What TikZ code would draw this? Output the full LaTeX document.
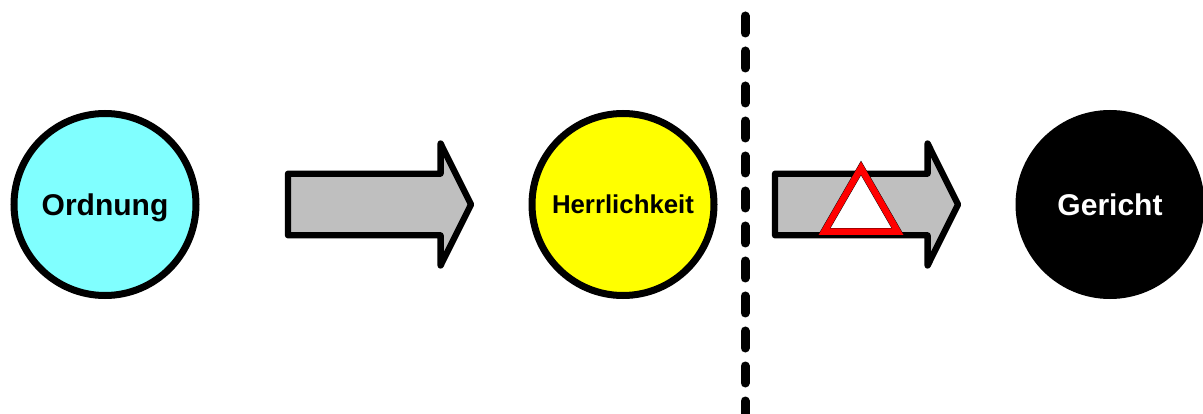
\documentclass[tikz,border=0pt]{standalone}
\usepackage{fontspec}
\setmainfont{Liberation Sans}
\usetikzlibrary{shapes.arrows,shapes.geometric}

\definecolor{clair}{RGB}{128,255,255}
\definecolor{jaune}{RGB}{255,255,0}

\tikzset{
    etat/.style={circle,draw=black,line width=7pt,minimum size=182pt,inner sep=0pt,font=\bfseries},
    fleche/.style={single arrow,draw=black,fill=black!25,line width=6.3pt,line cap=round,line join=round,
        minimum width=122pt,minimum height=183pt,single arrow head extend=30pt,
        single arrow tip angle=127,inner xsep=0pt,inner ysep=27.5pt,outer sep=0pt,anchor=west},
    alerte/.style={regular polygon,regular polygon sides=3,draw=black,line width=.4pt,double=red,
        double distance=6.5pt,fill=white,minimum size=85pt,inner sep=0pt}
}

\begin{document}
\begin{tikzpicture}[x=1pt,y=-1pt]
    \useasboundingbox (0,0) rectangle (1203,414);

    % Etats
    \node[etat,fill=clair,text depth=0pt] (ordnung) at (105,204.5) {\fontsize{30}{32}\selectfont Ordnung};
    \node[etat,fill=jaune] (herrlichkeit) at (623,204.5) {\fontsize{25.8}{30}\selectfont Herrlichkeit};
    \node[etat,fill=black,text=white] (gericht) at (1110,204.5) {\fontsize{30}{33}\selectfont Gericht};

    % Fleches
    \node[fleche] (passage) at (288,204.5) {};
    \node[fleche] (chute) at (775,204.5) {};

    % Triangle
    \node[alerte] (danger) at (861,210.5) {};

    % Separation
    \coordinate (haut) at (745,16);
    \coordinate (bas) at (745,420);
    \draw[line width=9pt,line cap=round,dash pattern=on 17pt off 18pt] (haut) -- (bas);
\end{tikzpicture}
\end{document}
